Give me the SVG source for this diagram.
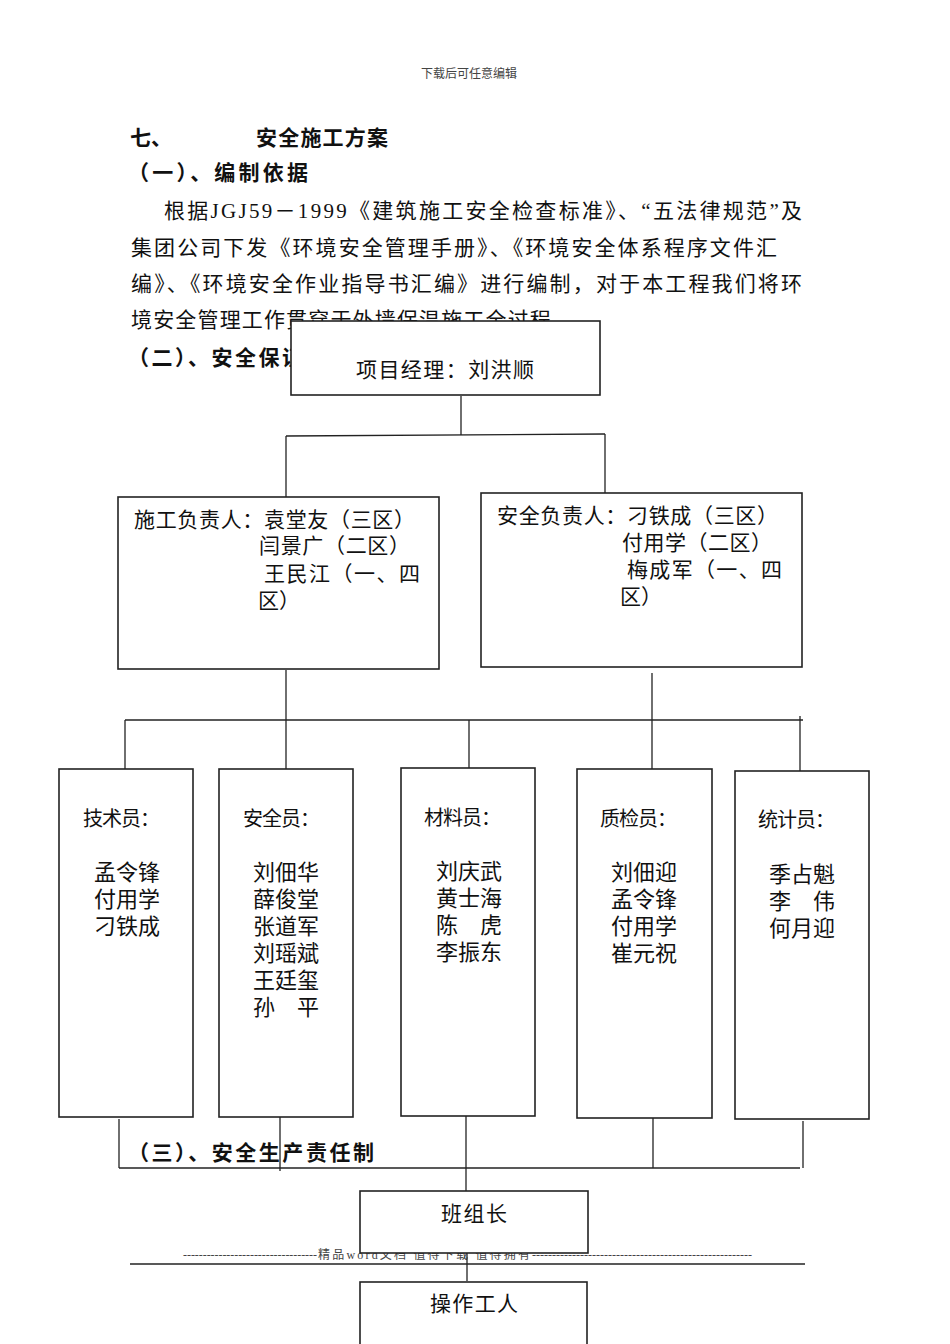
<svg xmlns="http://www.w3.org/2000/svg" width="950" height="1344" viewBox="0 0 950 1344">
<style>
.bg{fill:#fff}
.body{font-family:"Liberation Serif","Noto Sans CJK SC",serif;font-size:21px;fill:#111}
.bold{font-family:"Noto Sans CJK SC",sans-serif;font-size:21px;font-weight:bold;fill:#111}
.small{font-family:"Liberation Serif","Noto Sans CJK SC",serif;font-size:12px;fill:#444}
.node rect{fill:#fff;stroke:#222;stroke-width:1.6}
.lbl{font-family:"Liberation Serif","Noto Sans CJK SC",serif;font-size:21px;fill:#111}
.hd{font-family:"Liberation Serif","Noto Sans CJK SC",serif;font-size:20px;fill:#111}
.nm{font-family:"Liberation Serif","Noto Sans CJK SC",serif;font-size:22px;fill:#111}
.conn line{stroke:#222;stroke-width:1.3}
</style>
<rect class="bg" x="0" y="0" width="950" height="1344"/>

<text class="small" x="469" y="78" text-anchor="middle">下载后可任意编辑</text>

<text class="bold" x="130" y="145">七、</text>
<text class="bold" x="256" y="145" textLength="132">安全施工方案</text>
<text class="bold" x="128" y="180" textLength="180">（一）、编制依据</text>

<text class="body" x="164" y="218" textLength="638">根据JGJ59－1999《建筑施工安全检查标准》、“五法律规范”及</text>
<text class="body" x="131" y="255" textLength="646">集团公司下发《环境安全管理手册》、《环境安全体系程序文件汇</text>
<text class="body" x="131" y="291" textLength="671">编》、《环境安全作业指导书汇编》进行编制，对于本工程我们将环</text>
<text class="body" x="131" y="327" textLength="442">境安全管理工作贯穿于外墙保温施工全过程。</text>
<text class="bold" x="128" y="365" textLength="222">（二）、安全保证体系</text>

<text class="small" x="183" y="1259" textLength="134">----------------------------------</text>
<text class="small" x="318" y="1259" textLength="212">精品word文档 值得下载 值得拥有</text>
<text class="small" x="532" y="1259" textLength="220">-------------------------------------------------------</text>
<line x1="130" y1="1264" x2="805" y2="1264" stroke="#222" stroke-width="1.3"/>

<text class="bold" x="128" y="1160" textLength="246">（三）、安全生产责任制</text>

<g class="conn" id="connectors">
<line x1="461" y1="396" x2="461" y2="435"/>
<line x1="286" y1="436" x2="605" y2="434"/>
<line x1="286" y1="436" x2="286" y2="503"/>
<line x1="605" y1="434" x2="605" y2="500"/>
<line x1="286" y1="670" x2="286" y2="720"/>
<line x1="652" y1="673" x2="652" y2="720"/>
<line x1="125" y1="720" x2="803" y2="720"/>
<line x1="125" y1="720" x2="125" y2="769"/>
<line x1="286" y1="720" x2="286" y2="769"/>
<line x1="469" y1="720" x2="469" y2="768"/>
<line x1="652" y1="720" x2="652" y2="769"/>
<line x1="800" y1="716" x2="800" y2="771"/>
<line x1="119" y1="1119" x2="119" y2="1168"/>
<line x1="280" y1="1117" x2="280" y2="1171"/>
<line x1="466" y1="1116" x2="466" y2="1193"/>
<line x1="653" y1="1118" x2="653" y2="1168"/>
<line x1="803" y1="1121" x2="803" y2="1168"/>
<line x1="119" y1="1168" x2="800" y2="1168"/>
<line x1="467" y1="1253" x2="467" y2="1281"/>
</g>

<g class="node" id="pm">
<rect x="291" y="321" width="309" height="74"/>
<text class="lbl" x="356" y="377" textLength="178">项目经理：刘洪顺</text>
</g>

<g class="node" id="construction-lead">
<rect x="118" y="497" width="321" height="172"/>
<text class="lbl" x="134" y="527" textLength="281">施工负责人：袁堂友（三区）</text>
<text class="lbl" x="259" y="553" textLength="151">闫景广（二区）</text>
<text class="lbl" x="264" y="581" textLength="156">王民江（一、四</text>
<text class="lbl" x="258" y="608">区）</text>
</g>

<g class="node" id="safety-lead">
<rect x="481" y="493" width="321" height="174"/>
<text class="lbl" x="497" y="523" textLength="281">安全负责人：刁铁成（三区）</text>
<text class="lbl" x="622" y="550" textLength="150">付用学（二区）</text>
<text class="lbl" x="627" y="577" textLength="155">梅成军（一、四</text>
<text class="lbl" x="620" y="604">区）</text>
</g>

<g class="node" id="tech">
<rect x="59" y="769" width="134" height="348"/>
<text class="hd" x="83" y="826" textLength="77">技术员：</text>
<text class="nm" x="94" y="880">孟令锋</text>
<text class="nm" x="94" y="907">付用学</text>
<text class="nm" x="94" y="934">刁铁成</text>
</g>

<g class="node" id="safety">
<rect x="219" y="769" width="134" height="348"/>
<text class="hd" x="243" y="826" textLength="77">安全员：</text>
<text class="nm" x="253" y="880">刘佃华</text>
<text class="nm" x="253" y="907">薛俊堂</text>
<text class="nm" x="253" y="934">张道军</text>
<text class="nm" x="253" y="961">刘瑶斌</text>
<text class="nm" x="253" y="988">王廷玺</text>
<text class="nm" x="253" y="1015">孙　平</text>
</g>

<g class="node" id="material">
<rect x="401" y="768" width="134" height="348"/>
<text class="hd" x="424" y="825" textLength="77">材料员：</text>
<text class="nm" x="436" y="879">刘庆武</text>
<text class="nm" x="436" y="906">黄士海</text>
<text class="nm" x="436" y="933">陈　虎</text>
<text class="nm" x="436" y="960">李振东</text>
</g>

<g class="node" id="quality">
<rect x="577" y="769" width="135" height="349"/>
<text class="hd" x="600" y="826" textLength="77">质检员：</text>
<text class="nm" x="611" y="880">刘佃迎</text>
<text class="nm" x="611" y="907">孟令锋</text>
<text class="nm" x="611" y="934">付用学</text>
<text class="nm" x="611" y="961">崔元祝</text>
</g>

<g class="node" id="stats">
<rect x="735" y="771" width="134" height="348"/>
<text class="hd" x="758" y="827" textLength="77">统计员：</text>
<text class="nm" x="769" y="882">季占魁</text>
<text class="nm" x="769" y="909">李　伟</text>
<text class="nm" x="769" y="936">何月迎</text>
</g>

<g class="node" id="team-leader">
<rect x="360" y="1191" width="228" height="62"/>
<text class="lbl" x="474" y="1221" text-anchor="middle" textLength="66">班组长</text>
</g>

<g class="node" id="worker">
<rect x="360" y="1282" width="227" height="70"/>
<text class="lbl" x="474" y="1311" text-anchor="middle" textLength="88">操作工人</text>
</g>
</svg>
